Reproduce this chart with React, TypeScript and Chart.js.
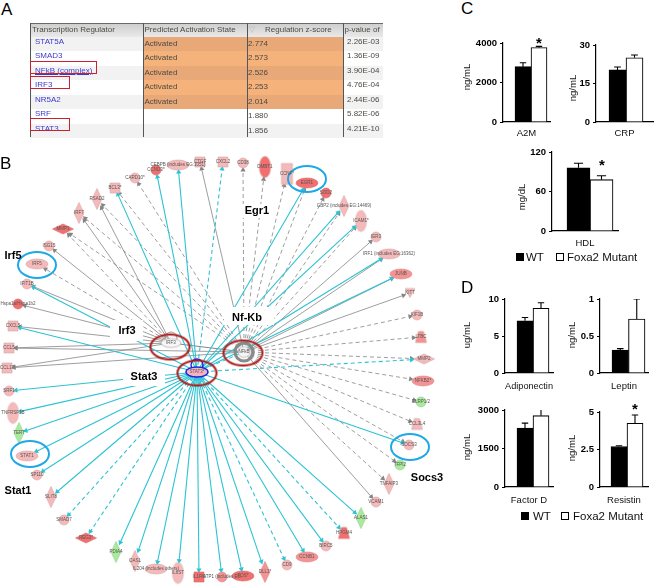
import React, { useEffect, useRef } from "react";
import { Chart, registerables } from "chart.js";

Chart.register(...registerables);

/* ---------- Panel A: table values ---------- */
const regulators = ["STAT5A", "SMAD3", "NFkB (complex)", "IRF3", "NR5A2", "SRF", "STAT3"];
const activationStates = ["Activated", "Activated", "Activated", "Activated", "Activated", "", ""];
const zScores = ["2.774", "2.573", "2.526", "2.253", "2.014", "1.880", "1.856"];
const pValues = ["2.26E-03", "1.36E-09", "3.90E-04", "4.76E-04", "2.44E-06", "5.82E-06", "4.21E-10"];
const boxedRegulators = ["NFkB (complex)", "IRF3", "STAT3"];

/* ---------- Panels C, D: bar values ---------- */
const barNames = ["A2M", "CRP", "HDL", "Adiponectin", "Leptin", "Factor D", "Resistin"];
const barUnits = ["ng/mL", "ng/mL", "mg/dL", "ug/mL", "ng/mL", "ng/mL", "ng/mL"];
const axisMaxima = [4000, 30, 120, 10, 1, 3000, 5];
const wtValues = [2800, 20.3, 96, 7.05, 0.31, 2300, 2.7];
const wtErrorTops = [3000, 21.4, 103, 7.5, 0.33, 2490, 2.75];
const mutantValues = [3770, 25, 78, 8.75, 0.73, 2780, 4.25];
const mutantErrorTops = [3830, 26.1, 84, 9.5, 1.0, 3100, 4.8];
const starredBars = ["A2M", "HDL", "Resistin"];

/* ---------- Panel B: network values (read in picture units) ---------- */
const nodeNames = [
  "CEBPB (includes EG:1051)", "CCND3*", "CARD10*", "BCL3*", "RSAD2", "IRF7", "MMP3", "ISG15", "IRF5", "IFIT1B",
  "Hspa1a/Hspa1b2", "CXCL5", "CCL5", "CCL17", "CTGF", "CXCL2", "CD38", "DMBT1", "CCNF*", "EGR1",
  "SOD2", "GBP2 (includes EG:14469)", "ICAM1*", "IER3", "IRF1 (includes EG:16362)", "JUNB", "KITT", "KIF1B", "LTBC", "MMP2",
  "NFKB2*", "ELRP1/2", "CCL3L4", "SOCS3", "TFPI2", "TNFAIP3", "VCAM1", "ALAS1", "HPGM4", "BIRC5",
  "CCNB1", "CD9", "DLL1*", "FOS*", "ATP1 (includes EG", "IL1RN", "IL6ST", "IL204 (includes others)", "OAS1", "PDIA4",
  "REG3*", "SMAD7", "SLIT8", "SP110", "STAT1", "TERT", "TNFRSF1B", "SRF1",
];
const nodeX = [
  178, 156, 135, 115, 97, 79, 63, 49, 37, 27,
  18, 13, 9, 7, 200, 223, 243, 265, 287, 307,
  326, 344, 361, 376, 389, 401, 410, 417, 421, 424,
  423, 421, 417, 409, 400, 389, 376, 361, 344, 326,
  307, 287, 265, 243, 222, 199, 178, 156, 135, 116,
  86, 64, 51, 37, 27, 19, 13, 9,
];
const nodeY = [
  165, 170, 178, 188, 199, 213, 229, 246, 264, 284,
  304, 326, 348, 368, 162, 162, 163, 167, 174, 183,
  193, 206, 221, 237, 254, 274, 293, 315, 337, 359,
  381, 402, 424, 445, 465, 484, 502, 518, 533, 546,
  557, 565, 572, 576, 577, 577, 573, 569, 561, 552,
  538, 520, 497, 475, 456, 433, 413, 391,
];
const nodeShapes = [
  "ellipseH", "circle", "circle", "square", "diamondV", "diamondV", "diamondH", "circle", "ellipseH", "circle",
  "circle", "square", "square", "square", "square", "square", "circle", "ellipseV", "rectV", "ellipseH",
  "circle", "diamondV", "ellipseV", "circle", "ellipseH", "ellipseH", "triDown", "circle", "trapezoid", "diamondH",
  "ellipseH", "circle", "trapezoid", "circle", "circle", "diamondV", "circle", "diamondV", "trapezoid", "circle",
  "ellipseH", "circle", "diamondV", "ellipseH", "circle", "square", "ellipseV", "ellipseH", "diamondV", "diamondV",
  "diamondH", "circle", "diamondV", "circle", "ellipseH", "diamondV", "ellipseV", "circle",
];
const redNodes = ["CCND3*", "MMP3", "Hspa1a/Hspa1b2", "DMBT1", "EGR1", "SOD2", "HPGM4", "FOS*", "IL1RN", "REG3*"];
const salmonNodes = ["DLL1*", "ATP1 (includes EG", "LTBC", "NFKB2*", "JUNB", "CCNB1"];
const greenNodes = ["ELRP1/2", "TFPI2", "ALAS1", "PDIA4", "TERT"];

const hubNames = ["IRF3", "NFkB", "STAT3*"];
const hubX = [171, 244, 197];
const hubY = [343, 352, 372];

const stat3Solid = ["SRF1", "TNFRSF1B", "TERT", "STAT1", "SP110", "SLIT8", "PDIA4", "OAS1", "IL204 (includes others)", "IL6ST", "IL1RN", "ATP1 (includes EG", "FOS*", "DLL1*", "CCNB1", "BIRC5", "ALAS1", "SOCS3", "CXCL5", "IFIT1B", "BCL3*", "CEBPB (includes EG:1051)", "CCND3*", "EGR1", "GBP2 (includes EG:14469)", "ICAM1*", "IRF1 (includes EG:16362)", "JUNB"];
const stat3Dashed = ["SMAD7", "REG3*", "CD9", "HPGM4", "MMP2", "CXCL2"];
const nfkbSolid = ["CTGF", "IER3", "IRF1 (includes EG:16362)", "JUNB", "KITT", "VCAM1", "CCL5", "CCL17"];
const nfkbDashed = ["CD38", "DMBT1", "CCNF*", "EGR1", "SOD2", "GBP2 (includes EG:14469)", "ICAM1*", "KIF1B", "LTBC", "MMP2", "NFKB2*", "ELRP1/2", "CCL3L4", "SOCS3", "TFPI2", "TNFAIP3", "MMP3", "RSAD2", "BCL3*", "CARD10*", "IRF7"];
const irf3Solid = ["ISG15", "IRF7", "RSAD2", "IFIT1B", "Hspa1a/Hspa1b2", "CXCL5", "CCL5", "CCL17"];
const irf3Dashed = ["IRF5", "MMP3"];

const cyanRingNodes = ["IRF5", "EGR1", "STAT1", "SOCS3"];
const cyanRingX = [37, 307, 30, 410];
const cyanRingY = [265, 179, 454, 447];
const redRingX = [170, 243, 197];
const redRingY = [347, 353, 373];

const callouts = ["Irf5", "Irf3", "Egr1", "Nf-Kb", "Stat3", "Stat1", "Socs3"];
const calloutX = [13, 127, 257, 247, 144, 18, 427];
const calloutY = [256, 331, 211, 318, 377, 491, 478];

/* ---------- styles and layout, separate from the values ---------- */
const SANS = '"Liberation Sans", Arial, sans-serif';
const CYAN = "#2cc3d3";
const GRAY = "#858585";
const SIZES: Record<string, [number, number]> = {
  ellipseH: [22, 10], ellipseV: [11, 21], circle: [10, 10], square: [10, 10], rectV: [11, 21],
  diamondV: [10, 21], diamondH: [21, 10], trapezoid: [11, 11], triDown: [10, 9],
};
const calloutMasks: Record<string, [number, number, number, number] | null> = {
  "Irf5": null, "Irf3": [110, 320, 33, 21], "Egr1": [241, 204, 30, 14], "Nf-Kb": [224, 307, 50, 18],
  "Stat3": [123, 366, 42, 20], "Stat1": null, "Socs3": null,
};
/* axis x, plot right, plot top, plot bottom, first bar left, bar width, caption x, caption y, x label y */
const panelLayout = [
  [503, 550, 43, 122, 515, 16, 467, 77, 133],
  [596, 653, 45, 122, 609, 17, 573, 88, 133],
  [552, 618, 152, 231, 567, 23, 522, 197, 243],
  [505, 553, 299, 373, 517, 16, 467, 335, 386],
  [600, 648, 299, 373, 612, 16.5, 572, 335, 386],
  [505, 553, 410, 487, 517, 16, 467, 447, 500],
  [600, 648, 412, 487, 611, 16, 572, 448, 500],
];
const starPositions: Record<string, [number, number]> = { A2M: [540, 40], HDL: [603, 162], Resistin: [636, 406] };

function nodePath(ctx: CanvasRenderingContext2D, shape: string, w: number, h: number, cx: number, cy: number) {
  ctx.beginPath();
  if (shape.startsWith("ellipse") || shape === "circle") {
    ctx.ellipse(cx, cy, w / 2, h / 2, 0, 0, Math.PI * 2);
  } else if (shape === "square" || shape === "rectV") {
    ctx.rect(cx - w / 2, cy - h / 2, w, h);
  } else if (shape.startsWith("diamond")) {
    ctx.moveTo(cx, cy - h / 2); ctx.lineTo(cx + w / 2, cy); ctx.lineTo(cx, cy + h / 2); ctx.lineTo(cx - w / 2, cy); ctx.closePath();
  } else if (shape === "trapezoid") {
    ctx.moveTo(cx - 2.5, cy - h / 2); ctx.lineTo(cx + 2.5, cy - h / 2); ctx.lineTo(cx + w / 2, cy + h / 2); ctx.lineTo(cx - w / 2, cy + h / 2); ctx.closePath();
  } else {
    ctx.moveTo(cx - w / 2, cy - h / 2); ctx.lineTo(cx + w / 2, cy - h / 2); ctx.lineTo(cx, cy + h / 2); ctx.closePath();
  }
}

function nodeImage(shape: string, w: number, h: number, fill: string, stroke: string, lineWidth = 0.6) {
  const c = document.createElement("canvas");
  c.width = Math.ceil(w + 4);
  c.height = Math.ceil(h + 4);
  const ctx = c.getContext("2d")!;
  nodePath(ctx, shape, w, h, c.width / 2, c.height / 2);
  if (fill) { ctx.fillStyle = fill; ctx.fill(); }
  ctx.strokeStyle = stroke;
  ctx.lineWidth = lineWidth;
  ctx.stroke();
  return c;
}

function edgeDataset(from: string, to: string, hubIdx: number, color: string, dashed: boolean) {
  const i = nodeNames.indexOf(to);
  const hx = hubX[hubIdx], hy = hubY[hubIdx];
  const dx = nodeX[i] - hx, dy = nodeY[i] - hy;
  const len = Math.hypot(dx, dy);
  const ux = dx / len, uy = dy / len;
  const [w, h] = SIZES[nodeShapes[i]];
  const r = 1 / Math.hypot(ux / (w / 2), uy / (h / 2)) + 2;
  return {
    label: `${from} to ${to}`,
    order: 3,
    showLine: true,
    data: [{ x: hx, y: hy }, { x: nodeX[i] - ux * r, y: nodeY[i] - uy * r }],
    borderColor: color,
    backgroundColor: color,
    borderWidth: color === CYAN ? 1.1 : 0.8,
    borderDash: dashed ? [4, 3] : [],
    pointStyle: "triangle",
    pointRadius: [0, 3],
    pointBorderWidth: 0,
    pointRotation: (Math.atan2(dx, -dy) * 180) / Math.PI,
  };
}

const networkLabels = {
  id: "networkLabels",
  afterDraw(chart: any) {
    const { ctx, scales } = chart;
    const xs = scales.x, ys = scales.y;
    ctx.save();
    ctx.textAlign = "center";
    ctx.textBaseline = "middle";
    ctx.fillStyle = "#555";
    ctx.font = `4.5px ${SANS}`;
    nodeNames.forEach((n, i) => ctx.fillText(n, xs.getPixelForValue(nodeX[i]), ys.getPixelForValue(nodeY[i])));
    hubNames.forEach((n, i) => ctx.fillText(n, xs.getPixelForValue(hubX[i]), ys.getPixelForValue(hubY[i])));
    callouts.forEach((t, i) => {
      const m = calloutMasks[t];
      if (m) {
        ctx.fillStyle = "#fff";
        ctx.fillRect(xs.getPixelForValue(m[0]), ys.getPixelForValue(m[1]), m[2], m[3]);
      }
      ctx.fillStyle = "#000";
      ctx.font = `bold 11px ${SANS}`;
      ctx.fillText(t, xs.getPixelForValue(calloutX[i]), ys.getPixelForValue(calloutY[i]));
    });
    ctx.restore();
  },
};

function Network() {
  const ref = useRef<HTMLCanvasElement>(null);
  useEffect(() => {
    const edges: any[] = [
      ...stat3Solid.map((n) => edgeDataset("STAT3", n, 2, CYAN, false)),
      ...stat3Dashed.map((n) => edgeDataset("STAT3", n, 2, CYAN, true)),
      ...nfkbSolid.map((n) => edgeDataset("NFkB", n, 1, GRAY, false)),
      ...nfkbDashed.map((n) => edgeDataset("NFkB", n, 1, GRAY, true)),
      ...irf3Solid.map((n) => edgeDataset("IRF3", n, 0, GRAY, false)),
      ...irf3Dashed.map((n) => edgeDataset("IRF3", n, 0, GRAY, true)),
    ];
    const hubLinks: any[] = [
      { label: "IRF3-NFkB", order: 3, showLine: true, pointRadius: 0, borderColor: GRAY, borderWidth: 1, data: [{ x: hubX[0], y: hubY[0] }, { x: hubX[1], y: hubY[1] }] },
      { label: "STAT3-NFkB", order: 3, showLine: true, pointRadius: 0, borderColor: CYAN, borderWidth: 1, borderDash: [4, 3], data: [{ x: hubX[2], y: hubY[2] }, { x: hubX[1], y: hubY[1] }] },
    ];
    const nodeImages = nodeNames.map((n, i) => {
      const [w, h] = SIZES[nodeShapes[i]];
      const red = redNodes.includes(n), salmon = salmonNodes.includes(n), green = greenNodes.includes(n);
      return nodeImage(
        nodeShapes[i], w, h,
        red ? "#f26f6f" : salmon ? "#f49393" : green ? "#a9ea9b" : "#f6b9b9",
        red ? "#d96a6a" : salmon ? "#da8a8a" : green ? "#9ac79a" : "#d3a6a6",
      );
    });
    const chart = new Chart(ref.current!, {
      type: "scatter",
      data: {
        datasets: [
          ...edges,
          ...hubLinks,
          {
            label: "self loops", order: 2, pointStyle: "circle", pointRadius: [6, 9, 6], pointBackgroundColor: "rgba(0,0,0,0)",
            pointBorderColor: ["#999", "#8a8a8a", "#2020d8"], pointBorderWidth: [1, 3, 1.4],
            data: [{ x: hubX[0], y: hubY[0] - 5 }, { x: hubX[1], y: hubY[1] }, { x: hubX[2], y: hubY[2] - 7 }],
          },
          {
            label: "nodes", order: 1, pointStyle: nodeImages, pointRadius: 5,
            data: nodeNames.map((_, i) => ({ x: nodeX[i], y: nodeY[i] })),
          },
          {
            label: "hubs", order: 1, pointRadius: 5,
            pointStyle: [
              nodeImage("ellipseH", 20, 9, "#f7f7f7", "#999"),
              nodeImage("ellipseH", 12, 11, "#f4f4f4", "#999"),
              nodeImage("ellipseH", 22, 10, "#f6b3c0", "#2020d8", 1.4),
            ],
            data: hubNames.map((_, i) => ({ x: hubX[i], y: hubY[i] })),
          },
          {
            label: "cyan rings", order: 0, pointRadius: 5,
            pointStyle: cyanRingNodes.map(() => nodeImage("ellipseH", 38, 26, "", "#1ea9e6", 2)),
            data: cyanRingX.map((x, i) => ({ x, y: cyanRingY[i] })),
          },
          {
            label: "red rings", order: 0, pointRadius: 5,
            pointStyle: redRingX.map(() => nodeImage("ellipseH", 39, 25, "", "#ad1818", 2)),
            data: redRingX.map((x, i) => ({ x, y: redRingY[i] })),
          },
        ],
      },
      options: {
        animation: false,
        responsive: false,
        layout: { padding: 0, autoPadding: false },
        plugins: { legend: { display: false }, tooltip: { enabled: false } },
        scales: {
          x: { type: "linear", min: 0, max: 445, display: false },
          y: { type: "linear", min: 150, max: 586, reverse: true, display: false },
        },
      },
      plugins: [networkLabels],
    } as any);
    return () => chart.destroy();
  }, []);
  return (
    <canvas ref={ref} width={445} height={436}
      style={{ position: "absolute", left: 0, top: 150, width: 445, height: 436, filter: "blur(0.35px)" }} />
  );
}

const yCaption = {
  id: "yCaption",
  afterDraw(chart: any, _a: any, o: any) {
    const { ctx } = chart;
    ctx.save();
    ctx.translate(o.x, o.y);
    ctx.rotate(-Math.PI / 2);
    ctx.textAlign = "center";
    ctx.textBaseline = "middle";
    ctx.fillStyle = "#111";
    ctx.font = `9.5px ${SANS}`;
    ctx.fillText(o.text, 0, 0);
    ctx.restore();
  },
};

function MiniBar({ index }: { index: number }) {
  const ref = useRef<HTMLCanvasElement>(null);
  const [axisX, right, top, bottom, barLeft, barW, capX, capY, labelY] = panelLayout[index];
  const yWidth = 50;
  const topPad = 12;
  const left = axisX - yWidth;
  const canvasTop = top - topPad;
  const canvasBottom = labelY + 6;
  const canvasW = right + 6 - left;
  const canvasH = canvasBottom - canvasTop;
  useEffect(() => {
    const plotW = right - axisX;
    const xMin = 1 - (barLeft + barW / 2 - axisX) / barW;
    const xMax = xMin + plotW / barW;
    const errLine = (x: number, v: number, t: number) => ({
      type: "line", order: 1, pointRadius: 0, borderColor: "#000", borderWidth: 1.1, tension: 0,
      data: [{ x, y: v }, { x, y: t }, { x: x - 0.2, y: t }, { x: x + 0.2, y: t }],
    });
    const chart = new Chart(ref.current!, {
      type: "bar",
      data: {
        datasets: [
          { label: "WT", order: 2, grouped: false, barThickness: barW, backgroundColor: "#000", borderColor: "#000", borderWidth: 1, data: [{ x: 1, y: wtValues[index] }] },
          { label: "Foxa2 Mutant", order: 2, grouped: false, barThickness: barW, backgroundColor: "#fff", borderColor: "#000", borderWidth: 1.1, data: [{ x: 2, y: mutantValues[index] }] },
          errLine(1, wtValues[index], wtErrorTops[index]),
          errLine(2, mutantValues[index], mutantErrorTops[index]),
        ],
      },
      options: {
        animation: false,
        responsive: false,
        layout: { padding: { top: topPad, right: 6, left: 0, bottom: 0 }, autoPadding: false },
        plugins: {
          legend: { display: false },
          tooltip: { enabled: false },
          yCaption: { text: barUnits[index], x: capX - left, y: capY - canvasTop },
        },
        scales: {
          x: {
            type: "linear", min: xMin, max: xMax, offset: false,
            grid: { display: false },
            border: { display: true, color: "#000", width: 1.2 },
            ticks: { display: false },
            title: { display: true, text: barNames[index], color: "#111", font: { family: SANS, size: 9.5 }, padding: 0 },
            afterFit: (s: any) => { s.height = canvasBottom - bottom; },
          },
          y: {
            min: 0, max: axisMaxima[index],
            grid: { display: true, drawOnChartArea: false, drawTicks: true, tickLength: 3, color: "#000" },
            border: { display: true, color: "#000", width: 1.2 },
            ticks: {
              stepSize: axisMaxima[index] / 2, color: "#000", padding: 3,
              font: { family: SANS, size: 9.5, weight: "bold" },
              callback: (v: number) => String(v),
            },
            afterFit: (s: any) => { s.width = yWidth; },
          },
        },
      },
      plugins: [yCaption],
    } as any);
    return () => chart.destroy();
  }, []);
  return (
    <canvas ref={ref} width={canvasW} height={canvasH}
      style={{ position: "absolute", left, top: canvasTop, width: canvasW, height: canvasH, filter: "blur(0.25px)" }} />
  );
}

const abs = (left: number, top: number, extra: React.CSSProperties = {}): React.CSSProperties => ({
  position: "absolute", left, top, whiteSpace: "nowrap", ...extra,
});

function RegulatorTable() {
  const rowH = 14.5;
  const first = 36.5;
  const font: React.CSSProperties = { fontFamily: SANS, fontSize: 8, lineHeight: "12px", color: "#4a4a44" };
  return (
    <div style={{ filter: "blur(0.3px)" }}>
      <div style={abs(30, 23, { width: 353, height: 13.5, background: "linear-gradient(#cfcfcf,#e9e9e9)", borderTop: "1.5px solid #6a6a6a", boxSizing: "border-box" })} />
      {regulators.map((r, i) => (
        <div key={r}>
          <div style={abs(30, first + rowH * i, { width: 353, height: rowH, background: i % 2 ? "#fff" : "#f2f2f2" })} />
          {activationStates[i] && (
            <div style={abs(143, first + rowH * i, { width: 200, height: rowH, background: i % 2 ? "#f5b27b" : "#e9a878" })} />
          )}
          <span style={abs(35, first + rowH * i - 1, { ...font, color: "#3a3ad0", textDecoration: r.startsWith("NFk") ? "underline" : "none" })}>{r}</span>
          <span style={abs(144.5, first + rowH * i + 1, font)}>{activationStates[i]}</span>
          <span style={abs(248, first + rowH * i + 1, font)}>{zScores[i]}</span>
          <span style={abs(347, first + rowH * i - 1, font)}>{pValues[i]}</span>
        </div>
      ))}
      <span style={abs(32, 24, font)}>Transcription Regulator</span>
      <span style={abs(144.5, 24, font)}>Predicted Activation State</span>
      <span style={abs(249, 24, { ...font, color: "#bbb" })}>▽</span>
      <span style={abs(265, 24, font)}>Regulation z-score</span>
      <span style={abs(344.5, 24, font)}>p-value of</span>
      {[30, 143, 247, 343].map((x) => (
        <div key={x} style={abs(x, 23, { width: 1, height: 114, background: "#555" })} />
      ))}
      {boxedRegulators.map((r) => {
        const i = regulators.indexOf(r);
        return (
          <div key={r} style={abs(30, first + rowH * i - 4.5 + (i === 6 ? -1 : 0), {
            width: r.startsWith("NFk") ? 67 : 40, height: 13, border: "1.2px solid #cc2030", boxSizing: "border-box",
          })} />
        );
      })}
    </div>
  );
}

function Legend({ x, y, textX, mutantX, mutantTextX }: { x: number; y: number; textX: number; mutantX: number; mutantTextX: number }) {
  const t: React.CSSProperties = { fontFamily: SANS, fontSize: 11.5, lineHeight: "14px", color: "#111" };
  return (
    <>
      <div style={abs(x, y - 4, { width: 8, height: 8, background: "#000" })} />
      <span style={abs(textX, y - 7.5, t)}>WT</span>
      <div style={abs(mutantX, y - 4, { width: 8, height: 8, background: "#fff", border: "1px solid #000", boxSizing: "border-box" })} />
      <span style={abs(mutantTextX, y - 7.5, t)}>Foxa2 Mutant</span>
    </>
  );
}

export default function App() {
  const letter: React.CSSProperties = { fontFamily: SANS, fontSize: 17, lineHeight: "20px", color: "#000" };
  return (
    <div style={{ position: "fixed", left: 0, top: 0, width: 659, height: 586, background: "#fff", overflow: "hidden" }}>
      <Network />
      <RegulatorTable />
      {barNames.map((n, i) => <MiniBar key={n} index={i} />)}
      {starredBars.map((n) => (
        <span key={n} style={abs(starPositions[n][0] - 4, starPositions[n][1] - 5, { fontFamily: SANS, fontWeight: 700, fontSize: 15, lineHeight: "16px", color: "#000" })}>*</span>
      ))}
      <Legend x={516} y={257} textX={526} mutantX={556} mutantTextX={567} />
      <Legend x={521} y={516} textX={533} mutantX={561} mutantTextX={573} />
      <span style={abs(1, 0, letter)}>A</span>
      <span style={abs(0, 154, letter)}>B</span>
      <span style={abs(461, -1, letter)}>C</span>
      <span style={abs(461, 278, letter)}>D</span>
    </div>
  );
}
